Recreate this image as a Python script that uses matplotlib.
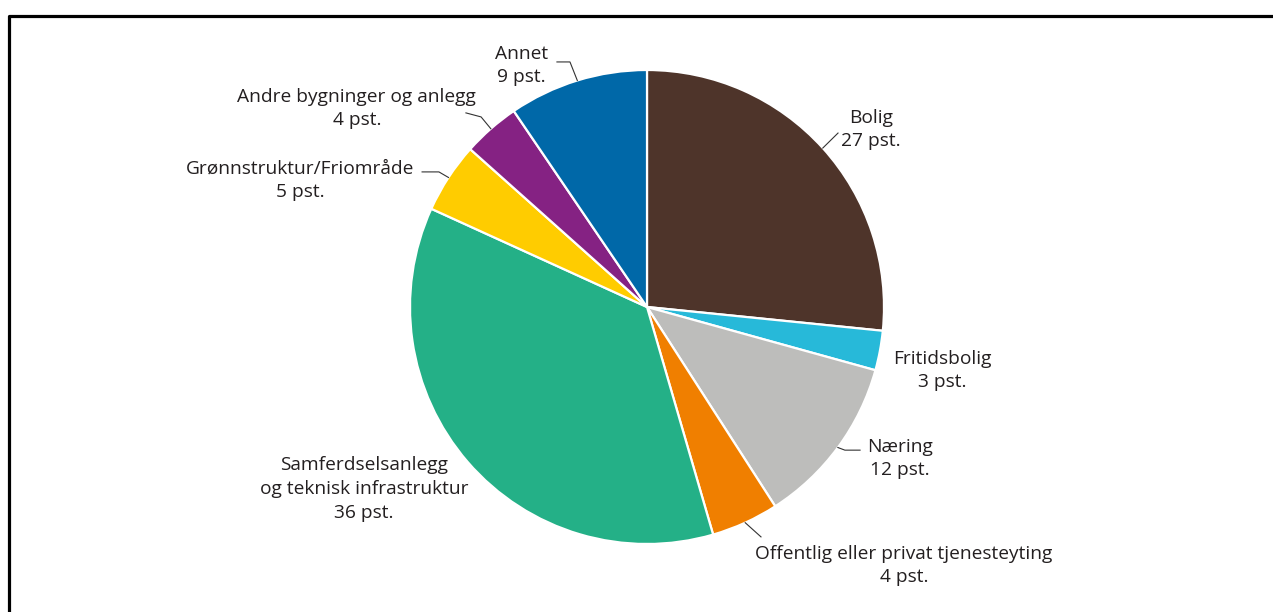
import numpy as np
import matplotlib
matplotlib.use("Agg")
import matplotlib.pyplot as plt
from matplotlib.lines import Line2D

# shares in per cent, clockwise from 12 o'clock
categories = ["Bolig", "Fritidsbolig", "Næring", "Offentlig eller privat tjenesteyting",
              "Samferdselsanlegg\nog teknisk infrastruktur", "Grønnstruktur/Friområde",
              "Andre bygninger og anlegg", "Annet"]
values = [26.6, 2.7, 11.6, 4.6, 36.3, 4.8, 3.9, 9.5]
pct_labels = ["27 pst.", "3 pst.", "12 pst.", "4 pst.", "36 pst.", "5 pst.", "4 pst.", "9 pst."]
colors = ["#4e342a", "#27b9d9", "#bdbdbb", "#f07f00", "#24b087", "#ffcc00", "#852283", "#0068a8"]

# label centres (data units, radius = 1)
label_pos = [(0.945, 0.749), (1.245, -0.268), (1.068, -0.639), (1.084, -1.091),
             (-1.194, -0.768), (-1.464, 0.534), (-1.224, 0.838), (-0.530, 1.019)]
# extra leader points after the wedge edge (None = no leader)
leaders = [[(0.806, 0.734)],
           None,
           [(0.835, -0.604), (0.899, -0.604)],
           [(0.481, -0.970)],
           None,
           [(-0.878, 0.570), (-0.949, 0.570)],
           [(-0.700, 0.802), (-0.764, 0.819)],
           [(-0.325, 1.034), (-0.380, 1.034)]]

W, H = 1273, 612
fig = plt.figure(figsize=(W / 100, H / 100), dpi=100)
plt.rcParams['font.family'] = ['Open Sans', 'DejaVu Sans']

cx, cy, R = 647, 612 - 307, 237
ax = fig.add_axes([(cx - R) / W, (cy - R) / H, 2 * R / W, 2 * R / H])
wedges, _ = ax.pie(values, colors=colors, startangle=90, counterclock=False,
                   radius=1, wedgeprops=dict(edgecolor="white", linewidth=1.6))
ax.set_xlim(-1, 1)
ax.set_ylim(-1, 1)
ax.set_aspect("equal")
ax.axis("off")

txt_color = "#231f20"
for w, name, pct, pos, lead in zip(wedges, categories, pct_labels, label_pos, leaders):
    ax.text(pos[0], pos[1], name + "\n" + pct, ha="center", va="center",
            fontsize=13.8, color=txt_color, linespacing=1.4, clip_on=False)
    if lead is not None:
        mid = np.deg2rad((w.theta1 + w.theta2) / 2)
        xs = [np.cos(mid)] + [p[0] for p in lead]
        ys = [np.sin(mid)] + [p[1] for p in lead]
        ax.plot(xs, ys, color="#333333", linewidth=0.8, clip_on=False)

# frame (left and top edges visible)
fx = 8.5 / W
fy = 1 - 15.5 / H
fig.add_artist(Line2D([fx, fx, 1.0], [0.0, fy, fy], transform=fig.transFigure,
                      color="black", linewidth=2.3))

fig.savefig("out.png", dpi=100, facecolor="white")
